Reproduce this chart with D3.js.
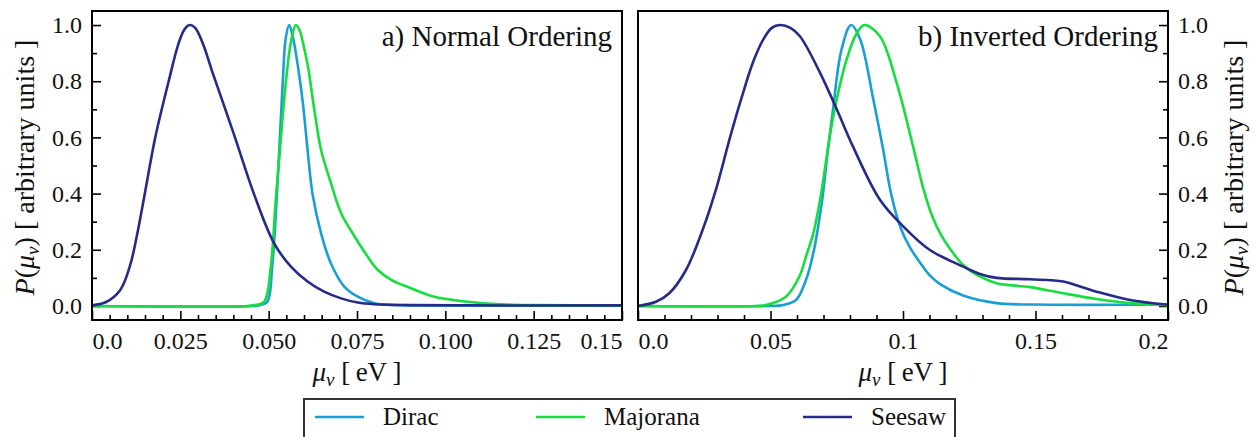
<!DOCTYPE html>
<html>
<head>
  <meta charset="utf-8">
  <title>Neutrino magnetic moment distributions</title>
  <script src="https://cdn.jsdelivr.net/npm/d3@7"></script>
  <style>
    body { margin: 0; background: #fff; }
    svg text { font-family: "Liberation Serif", "Times New Roman", serif; fill: #111; }
  </style>
</head>
<body>
  <svg id="chart" width="1255" height="437"></svg>

  <script>
    // ---- data: [mu_nu in eV, P(mu_nu)] ----
    var diracNO = [[0,0],[0.046,0],[0.0472,0.002],[0.0496,0.015],[0.051,0.14],[0.052,0.32],[0.053,0.557],
      [0.054,0.8],[0.0548,0.95],[0.0558,1.0],[0.0568,0.96],[0.0582,0.86],[0.0597,0.72],[0.061,0.557],
      [0.0624,0.40],[0.0648,0.26],[0.0676,0.152],[0.0714,0.069],[0.0752,0.033],[0.0799,0.01],
      [0.085,0.004],[0.1,0.002],[0.15,0.002]];
    var majoranaNO = [[0,0],[0.044,0],[0.0458,0.003],[0.0487,0.015],[0.0506,0.14],[0.052,0.378],
      [0.0532,0.557],[0.0545,0.75],[0.0558,0.9],[0.0568,0.97],[0.0577,1.0],[0.0588,0.98],[0.06,0.92],
      [0.0611,0.854],[0.0629,0.70],[0.0648,0.557],[0.0676,0.438],[0.0705,0.33],[0.0742,0.25],
      [0.078,0.176],[0.0809,0.128],[0.0847,0.093],[0.0903,0.063],[0.0969,0.033],[0.1064,0.015],
      [0.1159,0.006],[0.125,0.003],[0.15,0.002]];
    var seesawNO = [[0,0.002],[0.004,0.014],[0.008,0.057],[0.0108,0.145],[0.0127,0.25],[0.0148,0.39],
      [0.0179,0.6],[0.0217,0.8],[0.0245,0.935],[0.0262,0.985],[0.0276,1.0],[0.0292,0.99],[0.0315,0.93],
      [0.034,0.835],[0.0402,0.61],[0.0458,0.4],[0.0515,0.224],[0.0563,0.14],[0.061,0.087],
      [0.0657,0.051],[0.0705,0.027],[0.0752,0.012],[0.08,0.006],[0.09,0.003],[0.15,0.002]];

    var diracIO = [[0,0],[0.05,0],[0.0546,0.003],[0.0596,0.021],[0.0634,0.093],[0.0662,0.19],
      [0.0695,0.378],[0.0716,0.55],[0.0736,0.70],[0.0768,0.913],[0.0804,1.0],[0.0838,0.95],
      [0.0888,0.735],[0.0925,0.557],[0.0955,0.40],[0.0989,0.283],[0.1025,0.21],[0.1064,0.155],
      [0.11,0.11],[0.114,0.078],[0.1227,0.037],[0.1353,0.01],[0.15,0.005],[0.2,0.005]];
    var majoranaIO = [[0,0],[0.045,0],[0.0483,0.003],[0.0558,0.033],[0.0609,0.105],[0.0634,0.176],
      [0.0662,0.26],[0.0687,0.378],[0.0737,0.675],[0.0787,0.877],[0.0825,0.97],[0.0854,1.0],
      [0.0913,0.96],[0.0976,0.794],[0.1038,0.568],[0.1076,0.42],[0.111,0.32],[0.1145,0.25],
      [0.118,0.2],[0.1227,0.146],[0.129,0.105],[0.1353,0.081],[0.148,0.067],[0.1605,0.045],
      [0.173,0.025],[0.1857,0.01],[0.2,0.003]];
    var seesawIO = [[0,0],[0.0068,0.015],[0.0118,0.045],[0.0181,0.128],[0.0244,0.271],[0.0294,0.414],
      [0.0345,0.592],[0.0389,0.735],[0.0435,0.87],[0.0473,0.949],[0.0505,0.99],[0.0536,1.0],
      [0.0575,0.99],[0.0611,0.96],[0.0687,0.83],[0.075,0.70],[0.0811,0.568],[0.0913,0.378],
      [0.1001,0.283],[0.11,0.2],[0.1227,0.14],[0.129,0.114],[0.1353,0.1],[0.148,0.095],
      [0.1605,0.087],[0.1668,0.069],[0.173,0.051],[0.1857,0.021],[0.1983,0.006],[0.2,0.005]];

    // tick labels
    var xTicksNO = [0, 0.025, 0.05, 0.075, 0.1, 0.125, 0.15];
    var xLabelsNO = ["0.0", "0.025", "0.050", "0.075", "0.100", "0.125", "0.15"];
    var xTicksIO = [0, 0.05, 0.1, 0.15, 0.2];
    var xLabelsIO = ["0.0", "0.05", "0.1", "0.15", "0.2"];
    var yTicks = [0, 0.2, 0.4, 0.6, 0.8, 1.0];
    var yLabels = ["0.0", "0.2", "0.4", "0.6", "0.8", "1.0"];

    var seriesNames = ["Dirac", "Majorana", "Seesaw"];
    var seriesColors = ["#1a9fd4", "#17dd3e", "#252b86"];

    var svg = d3.select("#chart");
    var plotTop = 11, plotBottom = 320;
    var y = d3.scaleLinear().domain([-0.05, 1.05]).range([plotBottom, plotTop]);

    var panels = [
      { id: "a", left: 92, right: 622, xmax: 0.15, ticks: xTicksNO, labels: xLabelsNO, minor: 0.005,
        yside: "left", note: "a) Normal Ordering", data: [diracNO, majoranaNO, seesawNO] },
      { id: "b", left: 638, right: 1168, xmax: 0.2, ticks: xTicksIO, labels: xLabelsIO, minor: 0.01,
        yside: "right", note: "b) Inverted Ordering", data: [diracIO, majoranaIO, seesawIO] }
    ];

    // writes P(mu_nu) [ arbitrary units ] or mu_nu [ eV ] with italic greek + subscript
    function mathLabel(sel, pre, post) {
      if (pre) sel.append("tspan").style("font-style", "italic").text(pre);
      if (pre) sel.append("tspan").text("(");
      sel.append("tspan").style("font-style", "italic").text("\u03bc");
      sel.append("tspan").style("font-style", "italic").style("font-size", "19px").attr("dy", 5).text("\u03bd");
      sel.append("tspan").attr("dy", -5).text((pre ? ")" : "") + post);
    }

    panels.forEach(function(p) {
      var x = d3.scaleLinear().domain([0, p.xmax]).range([p.left, p.right]);
      var g = svg.append("g");

      g.append("clipPath").attr("id", "clip-" + p.id)
        .append("rect").attr("x", p.left).attr("y", plotTop)
        .attr("width", p.right - p.left).attr("height", plotBottom - plotTop);

      // minor ticks
      var minorX = d3.range(0, p.xmax + 1e-9, p.minor).filter(function(v) {
        return !p.ticks.some(function(t) { return Math.abs(t - v) < 1e-9; });
      });
      g.append("g").attr("transform", "translate(0," + plotBottom + ")")
        .call(d3.axisBottom(x).tickValues(minorX).tickSize(-5).tickFormat(""))
        .call(function(s) { s.select(".domain").remove(); });

      var minorY = [0.1, 0.3, 0.5, 0.7, 0.9];
      var yAxisPos = p.yside === "left" ? p.left : p.right;
      var yMinorAxis = p.yside === "left" ? d3.axisLeft(y) : d3.axisRight(y);
      g.append("g").attr("transform", "translate(" + yAxisPos + ",0)")
        .call(yMinorAxis.tickValues(minorY).tickSize(-5).tickFormat(""))
        .call(function(s) { s.select(".domain").remove(); });

      // major x axis
      var xa = g.append("g").attr("transform", "translate(0," + plotBottom + ")")
        .call(d3.axisBottom(x).tickValues(p.ticks).tickSize(-9).tickPadding(12)
          .tickFormat(function(d, i) { return p.labels[i]; }));
      xa.select(".domain").remove();
      xa.selectAll("text").style("font-size", "24px").attr("fill", "#111");
      xa.selectAll(".tick text").filter(function(d, i) { return i === 0; }).attr("text-anchor", "start");
      xa.selectAll(".tick text").filter(function(d, i) { return i === p.ticks.length - 1; }).attr("text-anchor", "end");

      // major y axis
      var yAxis = p.yside === "left" ? d3.axisLeft(y) : d3.axisRight(y);
      var ya = g.append("g").attr("transform", "translate(" + yAxisPos + ",0)")
        .call(yAxis.tickValues(yTicks).tickSize(-9).tickPadding(10)
          .tickFormat(function(d, i) { return yLabels[i]; }));
      ya.select(".domain").remove();
      ya.selectAll("text").style("font-size", "24px").attr("fill", "#111");

      g.selectAll(".tick line").attr("stroke", "#000").attr("stroke-width", 1.6);

      // curves
      var line = d3.line()
        .x(function(d) { return x(d[0]); })
        .y(function(d) { return y(d[1]); })
        .curve(d3.curveCatmullRom.alpha(0.5));

      g.append("g").attr("clip-path", "url(#clip-" + p.id + ")")
        .selectAll("path").data(p.data).enter()
        .append("path")
          .attr("d", line)
          .attr("fill", "none")
          .attr("stroke", function(d, i) { return seriesColors[i]; })
          .attr("stroke-width", 2.6)
          .attr("stroke-linejoin", "round");

      // frame
      g.append("rect")
        .attr("x", p.left).attr("y", plotTop)
        .attr("width", p.right - p.left).attr("height", plotBottom - plotTop)
        .attr("fill", "none").attr("stroke", "#000").attr("stroke-width", 2);

      // panel note
      g.append("text")
        .attr("x", p.right - 10).attr("y", 46)
        .attr("text-anchor", "end")
        .style("font-size", "29px")
        .text(p.note);

      // x label
      var xl = g.append("text")
        .attr("x", (p.left + p.right) / 2).attr("y", 381)
        .attr("text-anchor", "middle")
        .style("font-size", "27px");
      mathLabel(xl, null, "  [\u2009eV\u2009]");

      // y label
      var lx = p.yside === "left" ? 34 : 1243;
      var yl = g.append("text")
        .attr("transform", "translate(" + lx + "," + ((plotTop + plotBottom) / 2 + 2) + ") rotate(-90)")
        .attr("text-anchor", "middle")
        .style("font-size", "28px");
      mathLabel(yl, "P", "  [ arbitrary units ]");
    });

    // legend
    var legend = svg.append("g");
    legend.append("rect")
      .attr("x", 304).attr("y", 399).attr("width", 651).attr("height", 60)
      .attr("fill", "#fff").attr("stroke", "#333").attr("stroke-width", 2);
    var legendX = [315, 536, 803];
    seriesNames.forEach(function(name, i) {
      legend.append("line")
        .attr("x1", legendX[i]).attr("x2", legendX[i] + 49)
        .attr("y1", 417).attr("y2", 417)
        .attr("stroke", seriesColors[i]).attr("stroke-width", 2.6);
      legend.append("text")
        .attr("x", legendX[i] + 68).attr("y", 425)
        .style("font-size", "25px")
        .text(name);
    });
  </script>
</body>
</html>
